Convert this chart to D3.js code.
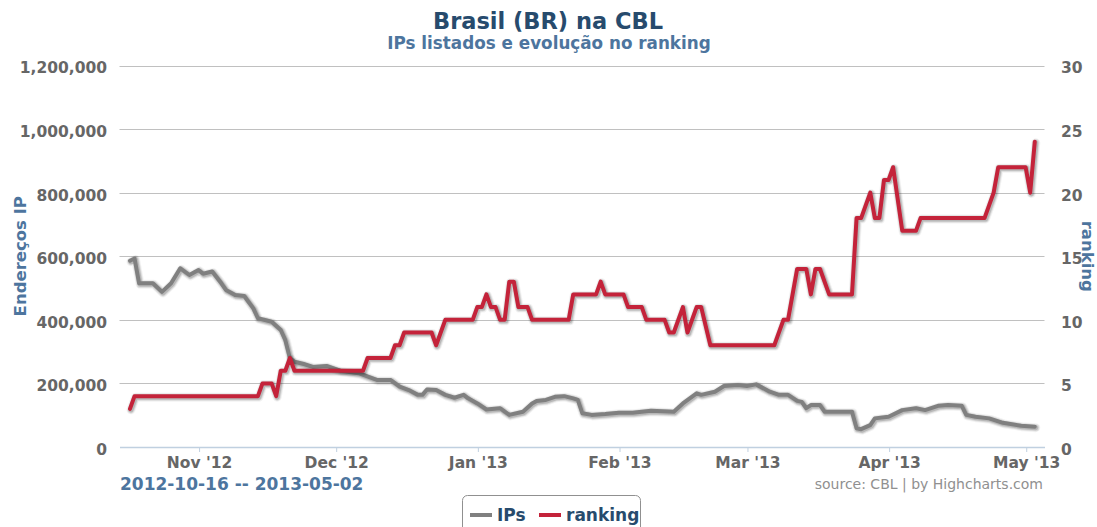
<!DOCTYPE html>
<html>
<head>
<meta charset="utf-8">
<script src="https://cdn.jsdelivr.net/npm/d3@7"></script>
<style>
  html, body { margin: 0; padding: 0; background: #fff; }
  svg, svg text { font-family: "DejaVu Sans", Verdana, sans-serif; }
  svg { display: block; }
</style>
</head>
<body>
<svg id="chart" width="1097" height="527"></svg>
<script>
// ranking of Brazil in the CBL (only the points where it changes)
var rankDates = ["2012-10-16","2012-10-17","2012-11-13","2012-11-14","2012-11-16","2012-11-17","2012-11-18","2012-11-19",
  "2012-11-20","2012-11-21","2012-12-06","2012-12-07","2012-12-12","2012-12-13","2012-12-14","2012-12-15","2012-12-21",
  "2012-12-22","2012-12-24","2012-12-30","2012-12-31","2013-01-01","2013-01-02","2013-01-03","2013-01-04","2013-01-05",
  "2013-01-06","2013-01-07","2013-01-08","2013-01-09","2013-01-11","2013-01-12","2013-01-20","2013-01-21","2013-01-26",
  "2013-01-27","2013-01-28","2013-02-01","2013-02-02","2013-02-05","2013-02-06","2013-02-10","2013-02-11","2013-02-12",
  "2013-02-14","2013-02-15","2013-02-17","2013-02-18","2013-02-20","2013-03-06","2013-03-08","2013-03-09","2013-03-11",
  "2013-03-13","2013-03-14","2013-03-15","2013-03-16","2013-03-18","2013-03-23","2013-03-24","2013-03-25","2013-03-27",
  "2013-03-28","2013-03-29","2013-03-30","2013-03-31","2013-04-01","2013-04-03","2013-04-06","2013-04-07","2013-04-21",
  "2013-04-22","2013-04-23","2013-04-24","2013-04-30","2013-05-01","2013-05-02"];
var rankValues = [3,4,4,5,5,4,6,6,
  7,6,6,7,7,8,8,9,9,
  8,10,10,11,11,12,11,11,10,
  10,13,13,11,11,10,10,12,12,
  13,12,12,11,11,10,10,9,9,
  11,9,11,11,8,8,10,10,14,
  14,12,14,14,12,12,18,18,20,
  18,18,21,21,22,17,17,18,18,
  19,20,22,22,20,24];

// number of listed IPs
var ipDates = ["2012-10-16","2012-10-17","2012-10-18","2012-10-21","2012-10-23","2012-10-25","2012-10-27","2012-10-29",
  "2012-10-31","2012-11-01","2012-11-03","2012-11-05","2012-11-06","2012-11-08","2012-11-10","2012-11-12","2012-11-13",
  "2012-11-16","2012-11-18","2012-11-19","2012-11-20","2012-11-21","2012-11-23","2012-11-25","2012-11-28","2012-12-01",
  "2012-12-05","2012-12-09","2012-12-12","2012-12-14","2012-12-16","2012-12-18","2012-12-19","2012-12-20","2012-12-22",
  "2012-12-24","2012-12-26","2012-12-28","2012-12-29","2012-12-31","2013-01-02","2013-01-05","2013-01-06","2013-01-07",
  "2013-01-10","2013-01-12","2013-01-13","2013-01-15","2013-01-17","2013-01-19","2013-01-21","2013-01-22","2013-01-23",
  "2013-01-25","2013-01-28","2013-01-31","2013-02-03","2013-02-07","2013-02-12","2013-02-14","2013-02-17","2013-02-18",
  "2013-02-21","2013-02-23","2013-02-26","2013-02-28","2013-03-02","2013-03-05","2013-03-07","2013-03-09","2013-03-11",
  "2013-03-12","2013-03-13","2013-03-14","2013-03-16","2013-03-17","2013-03-23","2013-03-24","2013-03-25","2013-03-27",
  "2013-03-28","2013-03-31","2013-04-03","2013-04-06","2013-04-08","2013-04-11","2013-04-13","2013-04-16","2013-04-17",
  "2013-04-19","2013-04-22","2013-04-25","2013-04-29","2013-05-02"];
var ipValues = [586000,593000,515000,515000,488000,515000,562000,541000,
  557000,545000,552000,515000,494000,478000,475000,436000,405000,
  394000,368000,336000,279000,268000,261000,252000,255000,240000,
  232000,211000,211000,190000,179000,164000,164000,181000,179000,
  164000,155000,164000,153000,137000,118000,122000,111000,101000,
  111000,137000,145000,148000,158000,160000,153000,148000,106000,
  101000,104000,108000,108000,114000,111000,137000,169000,164000,
  174000,192000,195000,192000,197000,174000,164000,164000,145000,
  142000,122000,132000,132000,111000,111000,59000,56000,69000,
  90000,95000,116000,122000,116000,130000,132000,130000,101000,
  95000,90000,76000,67000,64000];

var ipTicks = [0, 200000, 400000, 600000, 800000, 1000000, 1200000];
var rankTicks = [0, 5, 10, 15, 20, 25, 30];

var titleText = "Brasil (BR) na CBL";
var subtitleText = "IPs listados e evolução no ranking";
var rangeText = "2012-10-16 -- 2013-05-02";
var creditText = "source: CBL | by Highcharts.com";

var seriesNames = ["IPs", "ranking"];
var seriesColors = ["#808080", "#c4233a"];

var plot = { left: 119.5, right: 1044.5, top: 65.5, bottom: 447 };

var parse = d3.utcParse("%Y-%m-%d");
var svg = d3.select("#chart");

var x = d3.scaleUtc()
  .domain([new Date(Date.UTC(2012, 9, 14, 14)), new Date(Date.UTC(2013, 4, 5, 0))])
  .range([plot.left, plot.right]);
var yIp = d3.scaleLinear().domain([0, 1200000]).range([plot.bottom, plot.top]);
var yRank = d3.scaleLinear().domain([0, 30]).range([plot.bottom, plot.top]);

// the points sit a bit after midnight in the original (end-of-day stamps)
var stamp = function (s) { return d3.utcHour.offset(parse(s), 21); };

var labelSize = 15.5;

// d3 axes put their own font on the group, take it off again
function styleLabels(g) {
  g.attr("font-family", null).attr("font-size", null);
  g.selectAll("text")
    .attr("fill", "#666").attr("font-size", labelSize).attr("font-weight", "bold");
}

// grid
svg.append("g").selectAll("line")
  .data(ipTicks.slice(1))
  .enter().append("line")
  .attr("x1", plot.left).attr("x2", plot.right)
  .attr("y1", function (d) { return Math.round(yIp(d)) + 0.5; })
  .attr("y2", function (d) { return Math.round(yIp(d)) + 0.5; })
  .attr("stroke", "#c0c0c0").attr("stroke-width", 1);

// x axis
var xAxis = svg.append("g")
  .attr("transform", "translate(0," + plot.bottom + ")")
  .call(d3.axisBottom(x).ticks(d3.utcMonth.every(1)).tickFormat(d3.utcFormat("%b '%y")).tickSize(5).tickSizeOuter(0));
xAxis.select(".domain").attr("stroke", "#c0d0e0").attr("stroke-width", 1.5);
xAxis.selectAll(".tick line").attr("stroke", "#c0d0e0");
xAxis.selectAll(".tick text").attr("y", 16).attr("dy", "0.35em");
styleLabels(xAxis);

// left axis labels
var yLeft = svg.append("g")
  .attr("transform", "translate(107,2)")
  .call(d3.axisLeft(yIp).tickValues(ipTicks).tickFormat(d3.format(",")).tickSize(0));
yLeft.select(".domain").remove();
yLeft.selectAll("text").attr("x", 0).attr("dy", "0.35em");
styleLabels(yLeft);

// right axis labels
var yRight = svg.append("g")
  .attr("transform", "translate(1061,2)")
  .call(d3.axisRight(yRank).tickValues(rankTicks).tickSize(0));
yRight.select(".domain").remove();
yRight.selectAll("text").attr("x", 0).attr("dy", "0.35em");
styleLabels(yRight);

// axis titles
svg.append("text")
  .attr("transform", "translate(26," + ((plot.top + plot.bottom) / 2) + ") rotate(-90)")
  .attr("text-anchor", "middle").attr("fill", "#4d759e")
  .attr("font-size", 16.5).attr("font-weight", "bold")
  .text("Endereços IP");
svg.append("text")
  .attr("transform", "translate(1082," + ((plot.top + plot.bottom) / 2) + ") rotate(90)")
  .attr("text-anchor", "middle").attr("fill", "#4d759e")
  .attr("font-size", 16.5).attr("font-weight", "bold")
  .text("ranking");

// lines (with a soft shadow like highcharts draws)
var ipPoints = ipDates.map(function (d, i) { return [stamp(d), ipValues[i]]; });
var rankPoints = rankDates.map(function (d, i) { return [stamp(d), rankValues[i]]; });

var ipLine = d3.line().x(function (d) { return x(d[0]); }).y(function (d) { return yIp(d[1]); });
var rankLine = d3.line().x(function (d) { return x(d[0]); }).y(function (d) { return yRank(d[1]); });

function drawSeries(path, color) {
  var g = svg.append("g");
  [[5, 0.05], [3, 0.1], [1, 0.15]].forEach(function (s) {
    g.append("path").attr("d", path)
      .attr("transform", "translate(1,1)")
      .attr("fill", "none").attr("stroke", "#000")
      .attr("stroke-opacity", s[1]).attr("stroke-width", 4 + s[0])
      .attr("stroke-linejoin", "round").attr("stroke-linecap", "round");
  });
  g.append("path").attr("d", path)
    .attr("fill", "none").attr("stroke", color).attr("stroke-width", 4)
    .attr("stroke-linejoin", "round").attr("stroke-linecap", "round");
}
drawSeries(ipLine(ipPoints), seriesColors[0]);
drawSeries(rankLine(rankPoints), seriesColors[1]);

// titles
svg.append("text").attr("x", 548).attr("y", 29)
  .attr("text-anchor", "middle").attr("fill", "#274b6d")
  .attr("font-size", 22.5).attr("font-weight", "bold")
  .text(titleText);
svg.append("text").attr("x", 549).attr("y", 49)
  .attr("text-anchor", "middle").attr("fill", "#4d759e")
  .attr("font-size", 16.8).attr("font-weight", "bold")
  .text(subtitleText);

// date range and credits
svg.append("text").attr("x", 120).attr("y", 490)
  .attr("fill", "#4d759e").attr("font-size", 17).attr("font-weight", "bold")
  .text(rangeText);
svg.append("text").attr("x", 1043).attr("y", 489)
  .attr("text-anchor", "end").attr("fill", "#909090").attr("font-size", 14)
  .text(creditText);

// legend
var legend = svg.append("g");
legend.append("rect")
  .attr("x", 462.5).attr("y", 495.5).attr("width", 178).attr("height", 45)
  .attr("rx", 5).attr("fill", "#fff").attr("stroke", "#909090");
var itemX = [470, 539];
seriesNames.forEach(function (name, i) {
  legend.append("line")
    .attr("x1", itemX[i]).attr("x2", itemX[i] + 22)
    .attr("y1", 515).attr("y2", 515)
    .attr("stroke", seriesColors[i]).attr("stroke-width", 4);
  legend.append("text")
    .attr("x", itemX[i] + 27).attr("y", 521)
    .attr("fill", "#274b6d").attr("font-size", 17).attr("font-weight", "bold")
    .text(name);
});
</script>
</body>
</html>
